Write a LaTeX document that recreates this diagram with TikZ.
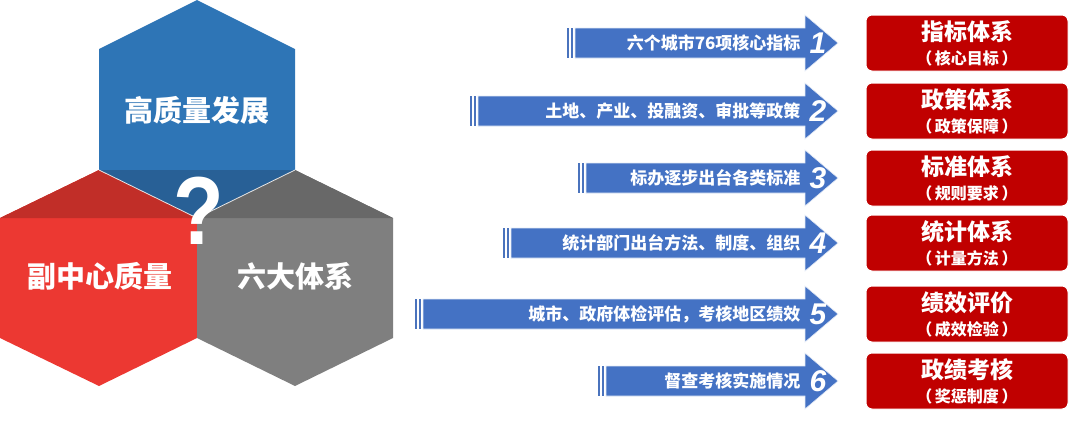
\documentclass[tikz,border=0pt]{standalone}
\usepackage{fontspec}
\setmainfont{Liberation Sans}
\newfontfamily\cjk{Noto Sans CJK SC}
\definecolor{hexblue}{HTML}{2E75B6}
\definecolor{hexblued}{HTML}{286096}
\definecolor{hexred}{HTML}{EC3832}
\definecolor{hexredd}{HTML}{C12E28}
\definecolor{hexgray}{HTML}{7F7F7F}
\definecolor{hexgrayd}{HTML}{686868}
\definecolor{arrblue}{HTML}{4472C4}
\definecolor{boxred}{HTML}{C00000}
\begin{document}
\begin{tikzpicture}[x=1pt,y=-1pt]
    \tikzset{
        hexlabel/.style =   { text=white
                            , font=\cjk\bfseries\fontsize{29}{31}\selectfont
                            }
        , arrowtext/.style = { text=white, anchor=east
                            , font=\cjk\bfseries\fontsize{17}{19}\selectfont
                            }
        , numtext/.style =  { text=white
                            , font=\bfseries\itshape\fontsize{30}{32}\selectfont
                            }
        , sysbox/.style =   { rectangle
                            , rounded corners=6pt
                            , fill=boxred
                            , draw=white, line width=1pt
                            , minimum width=202pt
                            , minimum height=56pt
                            , inner sep=1pt
                            , text=white, align=center
                            , font=\cjk\bfseries\fontsize{16}{24}\selectfont
                            }
    }
    \useasboundingbox (0,0) rectangle (1080,426);
    % hexagons
    \fill[hexblue] (197,0) -- (295,49) -- (295,170) -- (197,218) -- (99,170) -- (99,49) -- cycle;
    \fill[hexred] (99,170) -- (197,218) -- (197,338) -- (99,386) -- (0,338) -- (0,218) -- cycle;
    \fill[hexgray] (295,170) -- (393,218) -- (393,338) -- (295,386) -- (197,338) -- (197,218) -- cycle;
    \fill[hexblued] (99,170) -- (295,170) -- (197,218) -- cycle;
    \fill[hexredd] (0,218) -- (99,170) -- (197,218) -- cycle;
    \fill[hexgrayd] (197,218) -- (295,170) -- (393,218) -- cycle;
    \draw[white!80!gray, line width=0.8pt] (99,170) -- (197,218) -- (295,170);
    \node(top)[hexlabel] at (197,110) {高质量发展};
    \node(left)[hexlabel] at (100,276) {副中心质量};
    \node(right)[hexlabel] at (295,276) {六大体系};
    \node(q)[text=white, font=\bfseries\fontsize{92}{94}\selectfont, yscale=1.05, xscale=0.9] at (199,211) {?};
    % arrows and boxes
    \foreach \i/\y/\x/\t/\a/\b in {
        1/43/575/六个城市76项核心指标/指标体系/核心目标,
        2/111/478/土地、产业、投融资、审批等政策/政策体系/政策保障,
        3/178/586/标办逐步出台各类标准/标准体系/规则要求,
        4/243/511/统计部门出台方法、制度、组织/统计体系/计量方法,
        5/314/423/城市、政府体检评估，考核地区绩效/绩效评价/成效检验,
        6/381/606/督查考核实施情况/政绩考核/奖惩制度}{
        \fill[arrblue!90!gray] (\x-8,\y-15) rectangle (\x-6,\y+15);
        \fill[arrblue!90!gray] (\x-4,\y-15) rectangle (\x-2,\y+15);
        \fill[arrblue, draw=white!85!arrblue, line width=0.6pt]
            (\x,\y-15) -- (805,\y-15) -- (805,\y-28) -- (838,\y) -- (805,\y+28)
            -- (805,\y+15) -- (\x,\y+15) -- cycle;
        \node(t\i)[arrowtext] at (804,\y) {\t};
        \node(n\i)[numtext] at (818,\y) {\i};
        \node(b\i)[sysbox] at (967,\y) {{\fontsize{23}{25}\selectfont \a}\\
            （\,\b\,）};
    }
\end{tikzpicture}
\end{document}
